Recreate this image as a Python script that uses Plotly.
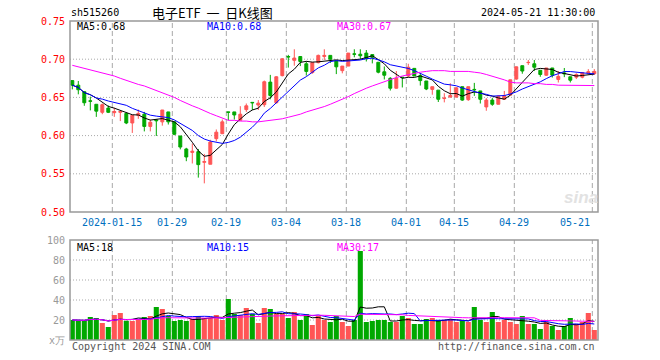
import pandas as pd
import plotly.graph_objects as go

W, H = 660, 360

# ---------------- data ----------------
holidays = ["2024-02-09", "2024-02-12", "2024-02-13", "2024-02-14", "2024-02-15",
            "2024-02-16", "2024-04-04", "2024-04-05", "2024-05-01", "2024-05-02", "2024-05-03"]
dates = [d.strftime("%Y-%m-%d") for d in pd.bdate_range("2024-01-04", "2024-05-21")
         if d.strftime("%Y-%m-%d") not in holidays]

opens = [0.672, 0.666, 0.6575, 0.6455, 0.641, 0.6305, 0.636, 0.630, 0.6305, 0.629,
         0.6165, 0.6265, 0.628, 0.612, 0.6205, 0.618, 0.631, 0.618, 0.5995, 0.5825,
         0.578, 0.579, 0.565, 0.5625, 0.596, 0.6025, 0.631, 0.631, 0.620, 0.634,
         0.6435, 0.640, 0.6405, 0.670, 0.643, 0.6785, 0.7035, 0.6985, 0.7035, 0.694,
         0.6825, 0.6955, 0.7035, 0.705, 0.698, 0.685, 0.691, 0.707, 0.7065, 0.708,
         0.706, 0.696, 0.6835, 0.675, 0.662, 0.6765, 0.678, 0.688, 0.6785, 0.6715,
         0.6605, 0.6595, 0.6485, 0.6505, 0.6505, 0.664, 0.647, 0.6605, 0.6585, 0.6375,
         0.6465, 0.641, 0.6475, 0.653, 0.674, 0.6915, 0.6955, 0.694, 0.6855, 0.679,
         0.6885, 0.6735, 0.682, 0.677, 0.6765, 0.6765, 0.682, 0.681]
highs = [0.672, 0.6715, 0.658, 0.651, 0.641, 0.642, 0.6395, 0.6365, 0.632, 0.630,
         0.627, 0.634, 0.631, 0.621, 0.621, 0.6335, 0.631, 0.618, 0.5995, 0.584,
         0.5895, 0.5825, 0.576, 0.5945, 0.608, 0.621, 0.631, 0.631, 0.6385, 0.642,
         0.6435, 0.6465, 0.672, 0.6795, 0.678, 0.7015, 0.7057, 0.713, 0.7035, 0.697,
         0.6955, 0.706, 0.713, 0.705, 0.698, 0.691, 0.708, 0.713, 0.713, 0.712,
         0.706, 0.696, 0.6905, 0.6765, 0.6845, 0.6765, 0.694, 0.688, 0.6815, 0.6715,
         0.664, 0.6595, 0.6555, 0.6685, 0.6635, 0.664, 0.664, 0.669, 0.6585, 0.649,
         0.6495, 0.653, 0.6585, 0.673, 0.6905, 0.6915, 0.699, 0.699, 0.6855, 0.6885,
         0.6885, 0.6845, 0.6885, 0.677, 0.6815, 0.683, 0.687, 0.687]
lows = [0.6605, 0.654, 0.639, 0.633, 0.6245, 0.628, 0.6295, 0.6245, 0.619, 0.615,
        0.6035, 0.622, 0.6055, 0.6055, 0.5995, 0.613, 0.6145, 0.6005, 0.582, 0.5665,
        0.5635, 0.545, 0.5375, 0.5625, 0.5925, 0.602, 0.620, 0.621, 0.620, 0.631,
        0.6335, 0.6335, 0.6375, 0.6475, 0.642, 0.6775, 0.689, 0.6915, 0.691, 0.6785,
        0.681, 0.6945, 0.699, 0.695, 0.6805, 0.6815, 0.691, 0.7025, 0.700, 0.697,
        0.6945, 0.6815, 0.6735, 0.659, 0.6615, 0.663, 0.6765, 0.678, 0.6655, 0.6595,
        0.6535, 0.644, 0.6435, 0.6495, 0.6495, 0.6455, 0.6455, 0.652, 0.642, 0.6325,
        0.639, 0.641, 0.6475, 0.6525, 0.673, 0.681, 0.6925, 0.6845, 0.677, 0.678,
        0.676, 0.6695, 0.6765, 0.6695, 0.674, 0.675, 0.680, 0.6795]
closes = [0.666, 0.660, 0.643, 0.645, 0.632, 0.6405, 0.6305, 0.6315, 0.6315, 0.6165,
          0.6265, 0.629, 0.612, 0.6175, 0.6195, 0.6335, 0.618, 0.6017, 0.585, 0.572,
          0.5795, 0.562, 0.566, 0.5915, 0.6045, 0.618, 0.6305, 0.627, 0.628, 0.639,
          0.643, 0.6425, 0.6705, 0.6525, 0.677, 0.7005, 0.703, 0.7015, 0.697, 0.684,
          0.6955, 0.705, 0.705, 0.700, 0.690, 0.691, 0.708, 0.7065, 0.7045, 0.701,
          0.7025, 0.683, 0.679, 0.662, 0.675, 0.676, 0.6895, 0.678, 0.672, 0.661,
          0.664, 0.6475, 0.649, 0.6525, 0.6625, 0.6465, 0.664, 0.660, 0.6475, 0.6465,
          0.641, 0.6515, 0.652, 0.673, 0.690, 0.6845, 0.6958, 0.6895, 0.680, 0.6885,
          0.679, 0.6775, 0.681, 0.6725, 0.680, 0.6825, 0.6835, 0.684]
ma30_price = [0.692, 0.690, 0.689, 0.687, 0.685, 0.683, 0.680, 0.678, 0.675, 0.672,
              0.670, 0.667, 0.665, 0.662, 0.660, 0.657, 0.654, 0.650, 0.646, 0.642,
              0.639, 0.636, 0.632, 0.629, 0.626, 0.623, 0.620, 0.620, 0.619, 0.619,
              0.618, 0.618, 0.619, 0.620, 0.621, 0.622, 0.624, 0.626, 0.628, 0.631,
              0.633, 0.636, 0.638, 0.641, 0.644, 0.648, 0.651, 0.655, 0.659, 0.662,
              0.665, 0.668, 0.671, 0.673, 0.676, 0.678, 0.680, 0.681, 0.683, 0.684,
              0.685, 0.685, 0.685, 0.684, 0.684, 0.684, 0.684, 0.683, 0.682, 0.680,
              0.678, 0.676, 0.673, 0.670, 0.669, 0.669, 0.669, 0.668, 0.668, 0.667,
              0.667, 0.666, 0.666, 0.666, 0.6655, 0.6655, 0.6655, 0.6655]
volumes = [20, 19, 20, 23, 22, 17, 13, 25, 27, 19, 19, 20, 23, 24, 33, 31, 24, 19, 20, 19,
           21, 24, 22, 22, 25, 20, 41, 26, 25, 32, 26, 17, 32, 31, 26, 26, 22, 28, 20, 26,
           15, 24, 20, 18, 24, 18, 14, 20, 89, 18, 19, 20, 20, 18, 18, 24, 22, 16, 16, 21,
           22, 20, 20, 21, 18, 19, 18, 33, 20, 18, 28, 18, 20, 18, 16, 24, 16, 16, 11, 18,
           14, 10, 14, 22, 16, 18, 27, 10]

tick_dates = ["2024-01-15", "2024-01-29", "2024-02-19", "2024-03-04", "2024-03-18",
              "2024-04-01", "2024-04-15", "2024-04-29", "2024-05-21"]
tick_labels = ["2024-01-15", "01-29", "02-19", "03-04", "03-18", "04-01", "04-15", "04-29", "05-21"]
price_ticks = [0.50, 0.55, 0.60, 0.65, 0.70, 0.75]
price_tick_labels = ["0.50", "0.55", "0.60", "0.65", "0.70", "0.75"]
vol_ticks = [0, 20, 40, 60, 80, 100]
vol_tick_labels = ["x万", "20", "40", "60", "80", "100"]

# ---------------- styles ----------------
RED = "#FF5555"
GREEN = "#00A800"
MONO = "DejaVu Sans Mono"
GRID = "#A8A8A8"
FRAME = "#999999"

n = len(closes)
idx = list(range(n))
s_close = pd.Series(closes)
ma5 = s_close.rolling(5, min_periods=1).mean()
ma10 = s_close.rolling(10, min_periods=1).mean()
s_vol = pd.Series(volumes)
vma5 = s_vol.rolling(5, min_periods=1).mean()
vma10 = s_vol.rolling(10, min_periods=1).mean()
vma30 = s_vol.rolling(30, min_periods=1).mean()

def px(x):
    return x / W

def py(y):
    return 1 - y / H

X0, X1 = 70, 598
P_TOP, P_BOT = 21, 212
V_TOP, V_BOT = 240, 340

fig = go.Figure()
fig.add_trace(go.Candlestick(
    x=idx, open=opens, high=highs, low=lows, close=closes,
    increasing=dict(line=dict(color=RED, width=1), fillcolor=RED),
    decreasing=dict(line=dict(color=GREEN, width=1), fillcolor=GREEN),
    whiskerwidth=0, xaxis="x", yaxis="y", showlegend=False, hoverinfo="skip"))
for ser, col in [(ma5, "#000000"), (ma10, "#0000FF"), (ma30_price, "#FF00FF")]:
    fig.add_trace(go.Scatter(x=idx, y=list(ser), mode="lines",
                             line=dict(color=col, width=1), xaxis="x", yaxis="y",
                             showlegend=False, hoverinfo="skip"))

vcolors = [RED if c >= o else GREEN for o, c in zip(opens, closes)]
fig.add_trace(go.Bar(x=idx, y=volumes, marker=dict(color=vcolors, line=dict(width=0)),
                     width=0.85, xaxis="x2", yaxis="y2", showlegend=False, hoverinfo="skip"))
for ser, col in [(vma5, "#000000"), (vma10, "#0000FF"), (vma30, "#FF00FF")]:
    fig.add_trace(go.Scatter(x=idx, y=list(ser), mode="lines",
                             line=dict(color=col, width=1), xaxis="x2", yaxis="y2",
                             showlegend=False, hoverinfo="skip"))

xr = [(X0 - 72.3) / 6, (X1 - 72.3) / 6]
axis_off = dict(showgrid=False, zeroline=False, showticklabels=False, showline=False, ticks="")
fig.update_layout(
    width=W, height=H, margin=dict(l=0, r=0, t=0, b=0),
    paper_bgcolor="white", plot_bgcolor="white",
    xaxis=dict(domain=[px(X0), px(X1)], range=xr, anchor="y", rangeslider=dict(visible=False), **axis_off),
    yaxis=dict(domain=[py(P_BOT), py(P_TOP)], range=[0.5, 0.75], anchor="x", **axis_off),
    xaxis2=dict(domain=[px(X0), px(X1)], range=xr, anchor="y2", matches="x", **axis_off),
    yaxis2=dict(domain=[py(V_BOT), py(V_TOP)], range=[0, 100], anchor="x2", **axis_off),
    showlegend=False,
)

shapes = []
# vertical dashed grid lines
for d in tick_dates:
    xi = dates.index(d) - 0.33
    for (a, b) in [(P_BOT, P_TOP), (V_BOT, V_TOP)]:
        shapes.append(dict(type="line", xref="x", yref="paper", x0=xi, x1=xi,
                           y0=py(a), y1=py(b), layer="below",
                           line=dict(color=GRID, width=1, dash="5px,3px")))
# horizontal dotted grid lines
for v in price_ticks[1:-1]:
    shapes.append(dict(type="line", xref="paper", yref="y", x0=px(X0), x1=px(X1), y0=v, y1=v,
                       layer="below", line=dict(color=GRID, width=1, dash="1px,2px")))
for v in vol_ticks[1:-1]:
    shapes.append(dict(type="line", xref="paper", yref="y2", x0=px(X0), x1=px(X1), y0=v, y1=v,
                       layer="below", line=dict(color=GRID, width=1, dash="1px,2px")))
# frames
for (a, b) in [(P_TOP, P_BOT), (V_TOP, V_BOT)]:
    shapes.append(dict(type="rect", xref="paper", yref="paper", x0=px(X0), x1=px(X1),
                       y0=py(b), y1=py(a), line=dict(color=FRAME, width=1.5), layer="above"))
fig.update_layout(shapes=shapes)

ann = []
def txt(x, y, s, color="#000000", size=10, anchor="left", family=MONO, **kw):
    ann.append(dict(x=px(x), y=py(y), xref="paper", yref="paper", text=s, showarrow=False,
                    xanchor=anchor, yanchor="middle", font=dict(family=family, size=size, color=color), **kw))

# header
txt(69, 13, "sh515260", size=10)
txt(150, 13, "电子ETF&nbsp; 一&nbsp; 日K线图", size=13, family="Noto Sans CJK SC, DejaVu Sans Mono")
txt(597, 13, "2024-05-21 11:30:00", size=10, anchor="right")
# MA legends
txt(75, 27, "MA5:0.68", "#000000")
txt(205, 27, "MA10:0.68", "#0000FF")
txt(335, 27, "MA30:0.67", "#FF00FF")
txt(75, 247, "MA5:18", "#000000")
txt(205, 247, "MA10:15", "#0000FF")
txt(335, 247, "MA30:17", "#FF00FF")
# price tick labels
for v, lab in zip(price_ticks, price_tick_labels):
    ann.append(dict(x=px(67), y=v, xref="paper", yref="y", text=lab, showarrow=False,
                    xanchor="right", yanchor="middle", font=dict(family=MONO, size=10, color="#FF0000")))
for v, lab in zip(vol_ticks, vol_tick_labels):
    ann.append(dict(x=px(67), y=v, xref="paper", yref="y2", text=lab, showarrow=False,
                    xanchor="right", yanchor="middle", font=dict(family=MONO, size=10, color="#999999")))
# x tick labels
for d, lab in zip(tick_dates, tick_labels):
    xi = dates.index(d) - 0.33
    last = d == tick_dates[-1]
    ann.append(dict(x=xi, y=py(222), xref="x", yref="paper", text=lab, showarrow=False,
                    xanchor="right" if last else "center", yanchor="middle",
                    font=dict(family=MONO, size=10, color="#0070C0")))
# footer
txt(70, 346, "Copyright 2024 SINA.COM", "#555555")
txt(597, 346, "http://finance.sina.com.cn", "#555555", anchor="right")
# watermark
txt(581, 197, "<b><i>sina</i></b>", "#E2E2E2", size=17, anchor="center", family="Arial, Liberation Sans")

fig.update_layout(annotations=ann)
fig.write_html("out.html", config={"displayModeBar": False},
               post_script="document.body.style.margin='0';document.body.style.overflow='hidden';")
